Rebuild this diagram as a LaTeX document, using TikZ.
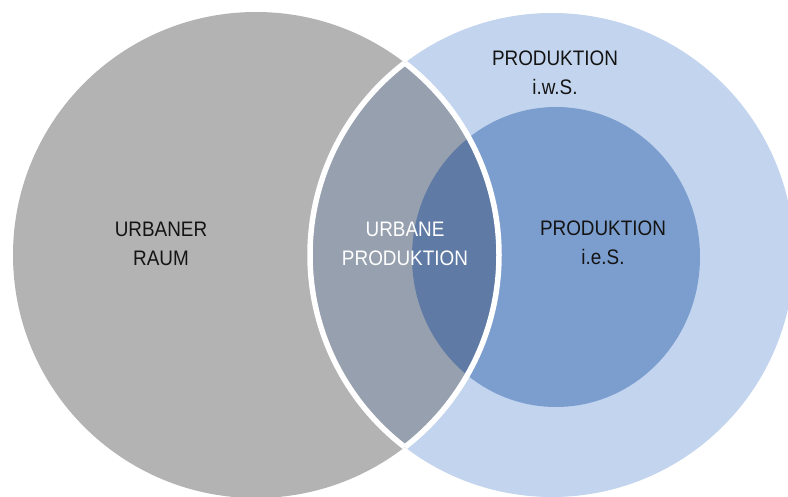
\documentclass[tikz,border=0pt]{standalone}
\usepackage{fontspec}
\setmainfont[FakeStretch=0.9]{Liberation Sans}
\definecolor{cgray}{HTML}{B3B3B3}
\definecolor{clens}{HTML}{96A0AE}
\definecolor{clight}{HTML}{C3D5EE}
\definecolor{cinner}{HTML}{7C9ECF}
\definecolor{cdark}{HTML}{5E7AA5}
\definecolor{ctext}{HTML}{141414}
\tikzset{
  lbl/.style={align=center, font=\fontsize{21}{29}\selectfont, inner sep=0pt},
}
\begin{document}
\begin{tikzpicture}[x=1pt,y=-1pt]
\useasboundingbox (0,0) rectangle (788,497);
\clip (0,0) rectangle (788,497);
\def\leftc{(256,255) circle [radius=243]}
\def\rightc{(552,255) circle [radius=242]}
\def\innerc{(556,257) ellipse [x radius=144, y radius=150]}
\fill[white] (0,0) rectangle (788,497);
\fill[cgray] \leftc;
\fill[clight] \rightc;
\fill[cinner] \innerc;
\begin{scope}
  \clip \leftc;
  \fill[clens] \rightc;
  \fill[cdark] \innerc;
  \draw[white, line width=5.5] \rightc;
\end{scope}
\begin{scope}
  \clip \rightc;
  \draw[white, line width=5.5] \leftc;
\end{scope}
\node[lbl, text=ctext] (raum) at (161,244) {URBANER\\RAUM};
\node[lbl, text=white] (urbprod) at (405,244) {URBANE\\PRODUKTION};
\node[lbl, text=ctext] (iws) at (555,73) {PRODUKTION\\i.w.S.};
\node[lbl, text=ctext] (ies) at (603,243) {PRODUKTION\\i.e.S.};
\end{tikzpicture}
\end{document}
